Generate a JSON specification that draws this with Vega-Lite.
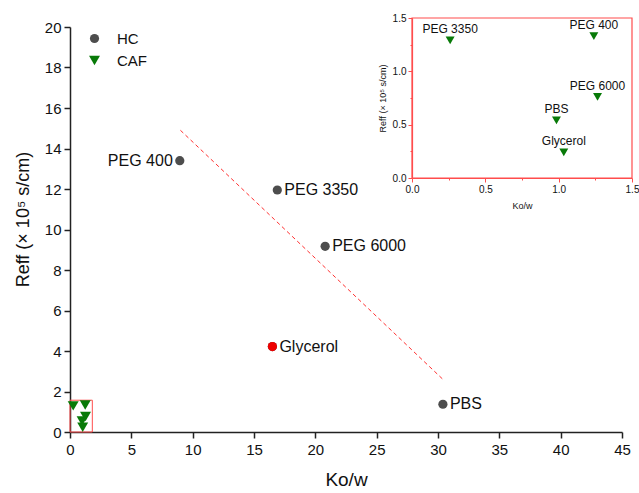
{
  "$schema": "https://vega.github.io/schema/vega-lite/v6.json",
  "width": 552,
  "height": 405,
  "autosize": {"type": "none"},
  "padding": {"left": 70, "top": 27, "right": 17, "bottom": 61},
  "config": {
    "view": {"stroke": null},
    "font": "Liberation Sans",
    "axis": {"grid": false, "labelOverlap": false, "labelFlush": false, "titleFontWeight": "normal", "labelColor": "#111", "titleColor": "#111"}
  },
  "datasets": {
    "pts": [
      {"series": "HC", "medium": "PEG 400", "k": 8.95, "r": 13.4},
      {"series": "HC", "medium": "PEG 3350", "k": 16.9, "r": 11.95},
      {"series": "HC", "medium": "PEG 6000", "k": 20.8, "r": 9.17},
      {"series": "HC", "medium": "PBS", "k": 30.4, "r": 1.37},
      {"series": "HC", "medium": "Glycerol", "k": 16.5, "r": 4.22},
      {"series": "CAF", "medium": "PEG 3350", "k": 0.26, "r": 1.29},
      {"series": "CAF", "medium": "PEG 400", "k": 1.24, "r": 1.33},
      {"series": "CAF", "medium": "PEG 6000", "k": 1.265, "r": 0.76},
      {"series": "CAF", "medium": "PBS", "k": 0.985, "r": 0.54},
      {"series": "CAF", "medium": "Glycerol", "k": 1.035, "r": 0.24}
    ],
    "fit": [{"k": 9.0, "r": 14.9}, {"k": 30.4, "r": 2.6}],
    "zoomBox": [{"k": 0, "k2": 1.82, "r": 0, "r2": 1.57}],
    "insetBox": [{"k": 0, "k2": 1.5, "r": 0, "r2": 1.5}]
  },
  "layer": [
    {
      "layer": [
        {
          "data": {"name": "zoomBox"},
          "mark": {"type": "rect", "fill": null, "stroke": "#ff4d4d", "strokeWidth": 1},
          "encoding": {
            "x": {
              "field": "k", "type": "quantitative",
              "scale": {"domain": [0, 45], "nice": false, "zero": false},
              "axis": {
                "title": "Ko/w", "orient": "bottom",
                "values": [0, 2.5, 5, 7.5, 10, 12.5, 15, 17.5, 20, 22.5, 25, 27.5, 30, 32.5, 35, 37.5, 40, 42.5, 45],
                "labelExpr": "datum.value % 5 === 0 ? datum.label : ''",
                "tickSize": {"condition": {"test": "datum.value % 5 === 0", "value": 6}, "value": 3},
                "domainColor": "#222", "domainWidth": 1.5, "tickColor": "#222", "tickWidth": 1.5,
                "labelFontSize": 15, "labelPadding": 4, "titleFontSize": 19, "titlePadding": 13
              }
            },
            "x2": {"field": "k2"},
            "y": {
              "field": "r", "type": "quantitative",
              "scale": {"domain": [0, 20], "nice": false, "zero": false},
              "axis": {
                "title": "Reff (× 10⁵ s/cm)", "orient": "left",
                "values": [0, 1, 2, 3, 4, 5, 6, 7, 8, 9, 10, 11, 12, 13, 14, 15, 16, 17, 18, 19, 20],
                "labelExpr": "datum.value % 2 === 0 ? datum.label : ''",
                "tickSize": {"condition": {"test": "datum.value % 2 === 0", "value": 6}, "value": 3},
                "domainColor": "#222", "domainWidth": 1.5, "tickColor": "#222", "tickWidth": 1.5,
                "labelFontSize": 15, "labelPadding": 3, "titleFontSize": 18, "titlePadding": 12,
                "titleY": 192
              }
            },
            "y2": {"field": "r2"}
          }
        },
        {
          "data": {"name": "fit"},
          "mark": {"type": "line", "color": "#ff3030", "strokeWidth": 1, "strokeDash": [4, 3]},
          "encoding": {
            "x": {"field": "k", "type": "quantitative"},
            "y": {"field": "r", "type": "quantitative"}
          }
        },
        {
          "data": {"name": "pts"},
          "mark": {"type": "point", "filled": true, "opacity": 1},
          "encoding": {
            "x": {"field": "k", "type": "quantitative"},
            "y": {"field": "r", "type": "quantitative"},
            "shape": {
              "field": "series", "type": "nominal",
              "scale": {"domain": ["HC", "CAF"], "range": ["circle", "triangle-down"]},
              "legend": {
                "title": null, "orient": "none", "legendX": 17, "legendY": 4,
                "labelFontSize": 15, "rowPadding": 6, "labelOffset": 15,
                "labelColor": "#111", "symbolStrokeWidth": 0
              }
            },
            "color": {
              "field": "series", "type": "nominal",
              "scale": {"domain": ["HC", "CAF"], "range": ["#4d4d4d", "#087a08"]}
            },
            "size": {
              "field": "series", "type": "nominal",
              "scale": {"domain": ["HC", "CAF"], "range": [85, 120]}
            }
          }
        },
        {
          "data": {"name": "pts"},
          "transform": [{"filter": "datum.series === 'HC' && datum.medium === 'Glycerol'"}],
          "mark": {"type": "point", "filled": true, "opacity": 1, "color": "#ee0000", "shape": "circle", "size": 85},
          "encoding": {
            "x": {"field": "k", "type": "quantitative"},
            "y": {"field": "r", "type": "quantitative"}
          }
        },
        {
          "data": {"name": "pts"},
          "transform": [{"filter": "datum.series === 'HC' && datum.medium !== 'PEG 400'"}],
          "mark": {"type": "text", "align": "left", "baseline": "middle", "dx": 7, "fontSize": 16, "color": "#111"},
          "encoding": {
            "x": {"field": "k", "type": "quantitative"},
            "y": {"field": "r", "type": "quantitative"},
            "text": {"field": "medium"}
          }
        },
        {
          "data": {"name": "pts"},
          "transform": [{"filter": "datum.series === 'HC' && datum.medium === 'PEG 400'"}],
          "mark": {"type": "text", "align": "right", "baseline": "middle", "dx": -7, "fontSize": 16, "color": "#111"},
          "encoding": {
            "x": {"field": "k", "type": "quantitative"},
            "y": {"field": "r", "type": "quantitative"},
            "text": {"field": "medium"}
          }
        }
      ]
    },
    {
      "layer": [
        {
          "data": {"name": "insetBox"},
          "mark": {"type": "rect", "fill": null, "stroke": "#ff4d4d", "strokeWidth": 1.2},
          "encoding": {
            "x": {
              "field": "k", "type": "quantitative",
              "scale": {"domain": [0, 1.5], "range": [342, 562], "nice": false, "zero": false},
              "axis": {
                "title": "Ko/w", "orient": "bottom", "offset": -254,
                "values": [0, 0.25, 0.5, 0.75, 1, 1.25, 1.5],
                "format": ".1f",
                "labelExpr": "(datum.value * 4) % 2 === 0 ? datum.label : ''",
                "tickSize": {"condition": {"test": "(datum.value * 4) % 2 === 0", "value": 4}, "value": 2},
                "domainColor": "#ff4d4d", "domainWidth": 1.2, "tickColor": "#ff4d4d",
                "labelFontSize": 10, "labelPadding": 2, "titleFontSize": 9, "titlePadding": 7
              }
            },
            "x2": {"field": "k2"},
            "y": {
              "field": "r", "type": "quantitative",
              "scale": {"domain": [0, 1.5], "range": [151, -9], "nice": false, "zero": false},
              "axis": {
                "title": "Reff (× 10⁵ s/cm)", "orient": "left", "offset": -342,
                "values": [0, 0.25, 0.5, 0.75, 1, 1.25, 1.5],
                "format": ".1f",
                "labelExpr": "(datum.value * 4) % 2 === 0 ? datum.label : ''",
                "tickSize": {"condition": {"test": "(datum.value * 4) % 2 === 0", "value": 4}, "value": 2},
                "domainColor": "#ff4d4d", "domainWidth": 1.2, "tickColor": "#ff4d4d",
                "labelFontSize": 10, "labelPadding": 2, "titleFontSize": 9, "titlePadding": 5
              }
            },
            "y2": {"field": "r2"}
          }
        },
        {
          "data": {"name": "pts"},
          "transform": [{"filter": "datum.series === 'CAF'"}],
          "mark": {"type": "point", "filled": true, "opacity": 1, "shape": "triangle-down", "color": "#087a08", "size": 80},
          "encoding": {
            "x": {"field": "k", "type": "quantitative"},
            "y": {"field": "r", "type": "quantitative"}
          }
        },
        {
          "data": {"name": "pts"},
          "transform": [{"filter": "datum.series === 'CAF'"}],
          "mark": {"type": "text", "align": "center", "baseline": "middle", "dy": -11, "fontSize": 12, "color": "#111"},
          "encoding": {
            "x": {"field": "k", "type": "quantitative"},
            "y": {"field": "r", "type": "quantitative"},
            "text": {"field": "medium"}
          }
        }
      ]
    }
  ],
  "resolve": {"scale": {"x": "independent", "y": "independent"}}
}
